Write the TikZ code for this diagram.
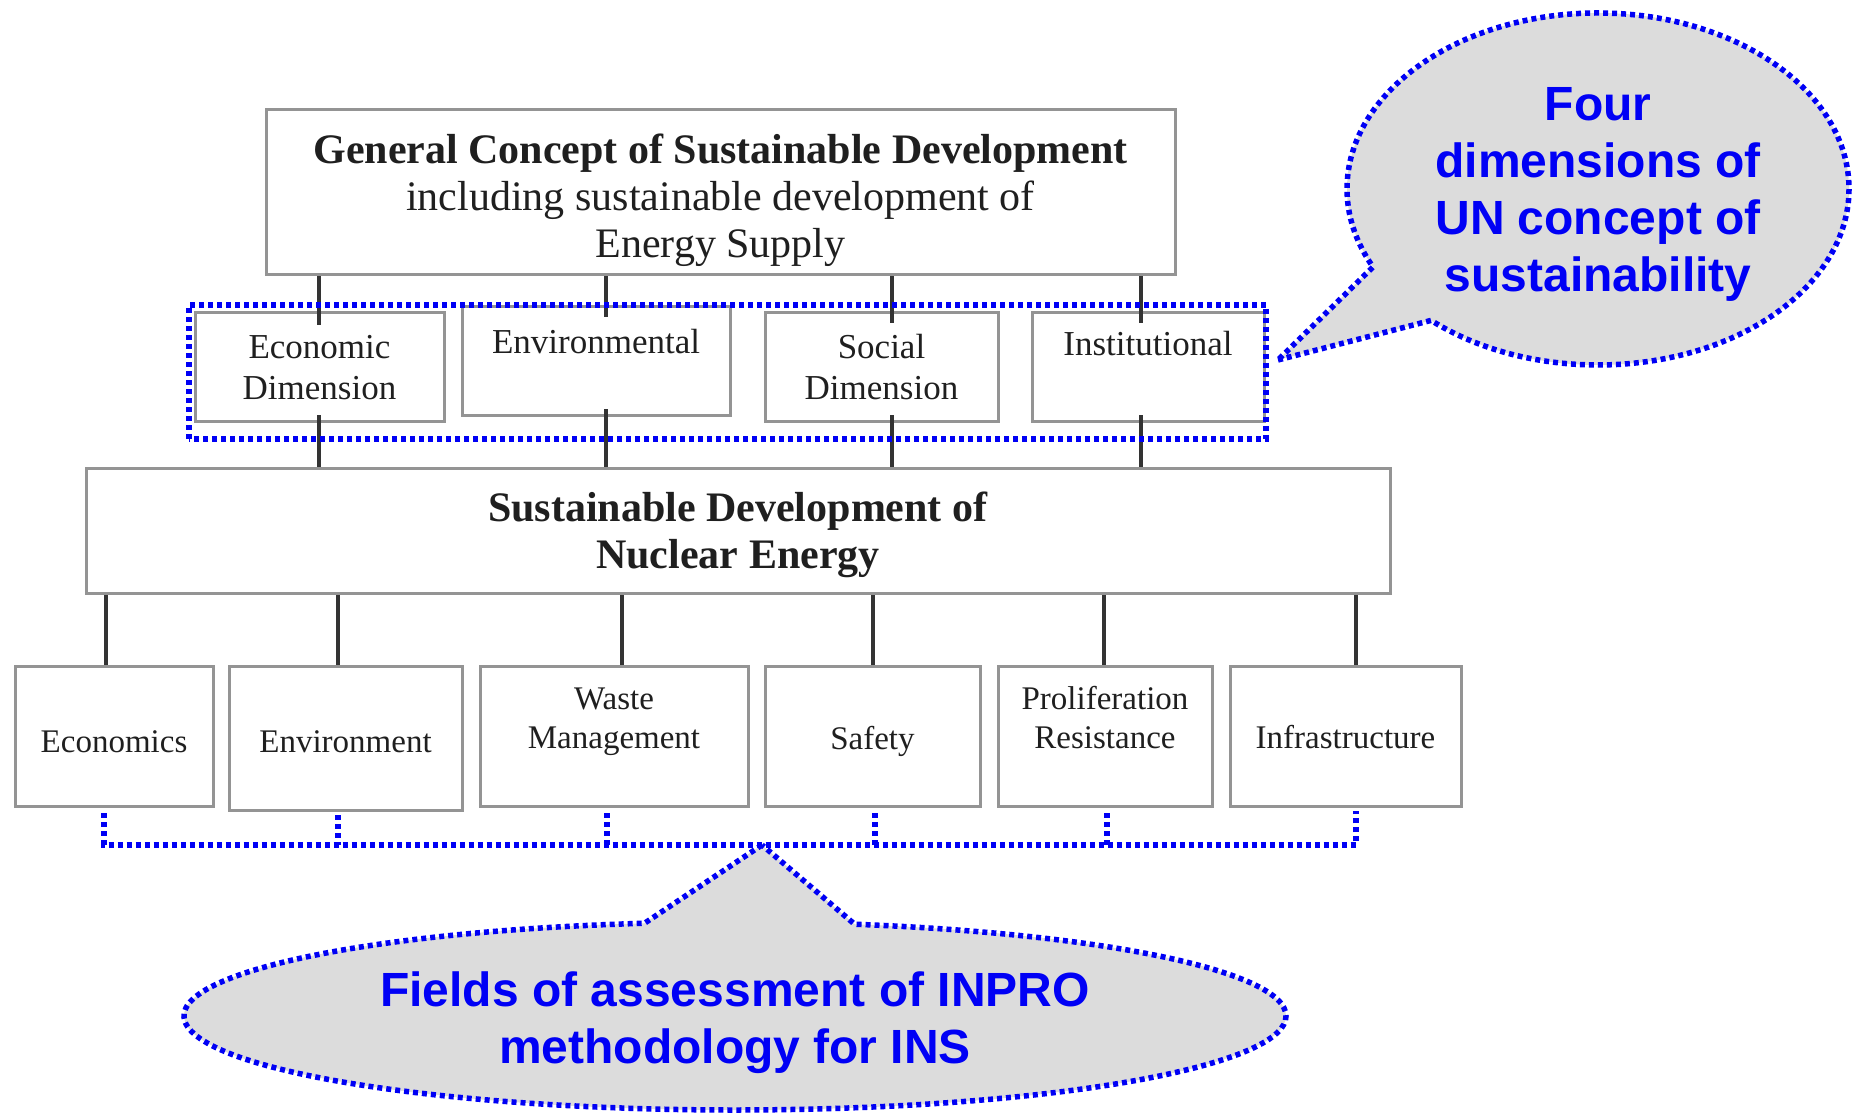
\documentclass[tikz,border=0pt]{standalone}
\usepackage{fontspec}
\setmainfont{Liberation Serif}
\newfontfamily\calloutfont{Liberation Sans}
\usetikzlibrary{shapes.callouts,calc}
\definecolor{dotblue}{RGB}{0,0,245}
\definecolor{bubblegray}{RGB}{220,220,220}
\newcommand{\lift}[1]{\rule{0pt}{#1pt}}
\begin{document}
\begin{tikzpicture}[x=1pt,y=1pt,
  box/.style={draw=black!42, line width=3pt, fill=white, inner sep=0pt, align=center, text=black!88},
  conn/.style={draw=black!80, line width=3.5pt},
  bluedot/.style={draw=dotblue, line width=5.5pt, dash pattern=on 5pt off 4pt},
  bubble/.style={ellipse callout, bluedot, fill=bubblegray, inner sep=0pt, align=center, text=dotblue,
    font=\calloutfont\bfseries\fontsize{48}{57}\selectfont},
  bigtxt/.style={font=\fontsize{42}{47}\selectfont},
  midtxt/.style={font=\fontsize{35}{41}\selectfont},
  smltxt/.style={font=\fontsize{33}{39}\selectfont}]

\useasboundingbox (0,0) rectangle (1852,1115);

% top box
\node[box, bigtxt, minimum width=909, minimum height=165] (top) at (720.5,922.5)
  {\lift{45}\textbf{General Concept of Sustainable Development}\\including sustainable development of\\Energy Supply};

% dimension boxes
\node[box, midtxt, minimum width=249, minimum height=109] (ecod) at (319.5,747.5) {Economic\\Dimension};
\node[box, midtxt, minimum width=268, minimum height=109] (envd) at (596,753.5) {\lift{36.5}Environmental\\\strut};
\node[box, midtxt, minimum width=233, minimum height=109] (socd) at (881.5,747.5) {Social\\Dimension};
\node[box, midtxt, minimum width=232, minimum height=109] (instd) at (1148,747.5) {\lift{30}Institutional\\\strut};

% middle box
\node[box, bigtxt, minimum width=1304, minimum height=125] (mid) at (738,583.5)
  {\lift{36}\textbf{Sustainable Development of}\\\textbf{Nuclear Energy}};

% bottom boxes
\node[box, smltxt, minimum width=198, minimum height=140] (econ) at (114,378) {\lift{30.5}Economics};
\node[box, smltxt, minimum width=233, minimum height=144] (envr) at (345.5,376) {\lift{26.5}Environment};
\node[box, smltxt, minimum width=268, minimum height=140] (waste) at (614,378) {\lift{35}Waste\\\strut Management\\\strut};
\node[box, smltxt, minimum width=215, minimum height=140] (safe) at (872.5,378) {\lift{32}Safety};
\node[box, smltxt, minimum width=214, minimum height=140] (prol) at (1105,378) {\lift{35}Proliferation\\\strut Resistance\\\strut};
\node[box, smltxt, minimum width=231, minimum height=140] (infra) at (1345.5,378) {Infrastructure};

% connectors top -> dimensions
\draw[conn] (top.south -| 319,0) -- ($(ecod.north -| 319,0)+(0,-14)$);
\draw[conn] (top.south -| 606,0) -- ($(envd.north -| 606,0)+(0,-12)$);
\draw[conn] (top.south -| 892,0) -- ($(socd.north -| 892,0)+(0,-12)$);
\draw[conn] (top.south -| 1141,0) -- ($(instd.north -| 1141,0)+(0,-12)$);
% connectors dimensions -> middle
\draw[conn] ($(ecod.south -| 319,0)+(0,8)$) -- (mid.north -| 319,0);
\draw[conn] ($(envd.south -| 606,0)+(0,8)$) -- (mid.north -| 606,0);
\draw[conn] ($(socd.south -| 892,0)+(0,8)$) -- (mid.north -| 892,0);
\draw[conn] ($(instd.south -| 1141,0)+(0,8)$) -- (mid.north -| 1141,0);
% connectors middle -> fields
\draw[conn] (mid.south -| 106,0) -- (econ.north -| 106,0);
\draw[conn] (mid.south -| 338,0) -- (envr.north -| 338,0);
\draw[conn] (mid.south -| 622,0) -- (waste.north -| 622,0);
\draw[conn] (mid.south -| 873,0) -- (safe.north -| 873,0);
\draw[conn] (mid.south -| 1104,0) -- (prol.north -| 1104,0);
\draw[conn] (mid.south -| 1356,0) -- (infra.north -| 1356,0);

% blue dotted frame around dimensions
\draw[bluedot] (189,676) rectangle (1266,810);
\coordinate (rtip) at (1278,755);

% blue dotted bracket below fields
\coordinate (brk) at (762,270);
\draw[bluedot] ($(econ.south -| 104,0)+(0,-5)$) -- (104,270) -- (1356,270) -- ($(infra.south -| 1356,0)+(0,-3)$);
\draw[bluedot] ($(envr.south -| 338,0)+(0,-3)$) -- (338,270);
\draw[bluedot] ($(waste.south -| 607,0)+(0,-5)$) -- (607,270);
\draw[bluedot] ($(safe.south -| 875,0)+(0,-5)$) -- (875,270);
\draw[bluedot] ($(prol.south -| 1107,0)+(0,-5)$) -- (1107,270);

% callouts
\node[bubble, minimum width=502, minimum height=352, callout absolute pointer={(rtip)}, callout pointer arc=22]
  (rbub) at (1598,926) {\lift{44}Four\\dimensions of\\UN concept of\\sustainability};
\node[bubble, minimum width=1102, minimum height=188, callout absolute pointer={(brk)}, callout pointer arc=22]
  (bbub) at (735,99) {\lift{49}Fields of assessment of INPRO\\methodology for INS};
\end{tikzpicture}
\end{document}
